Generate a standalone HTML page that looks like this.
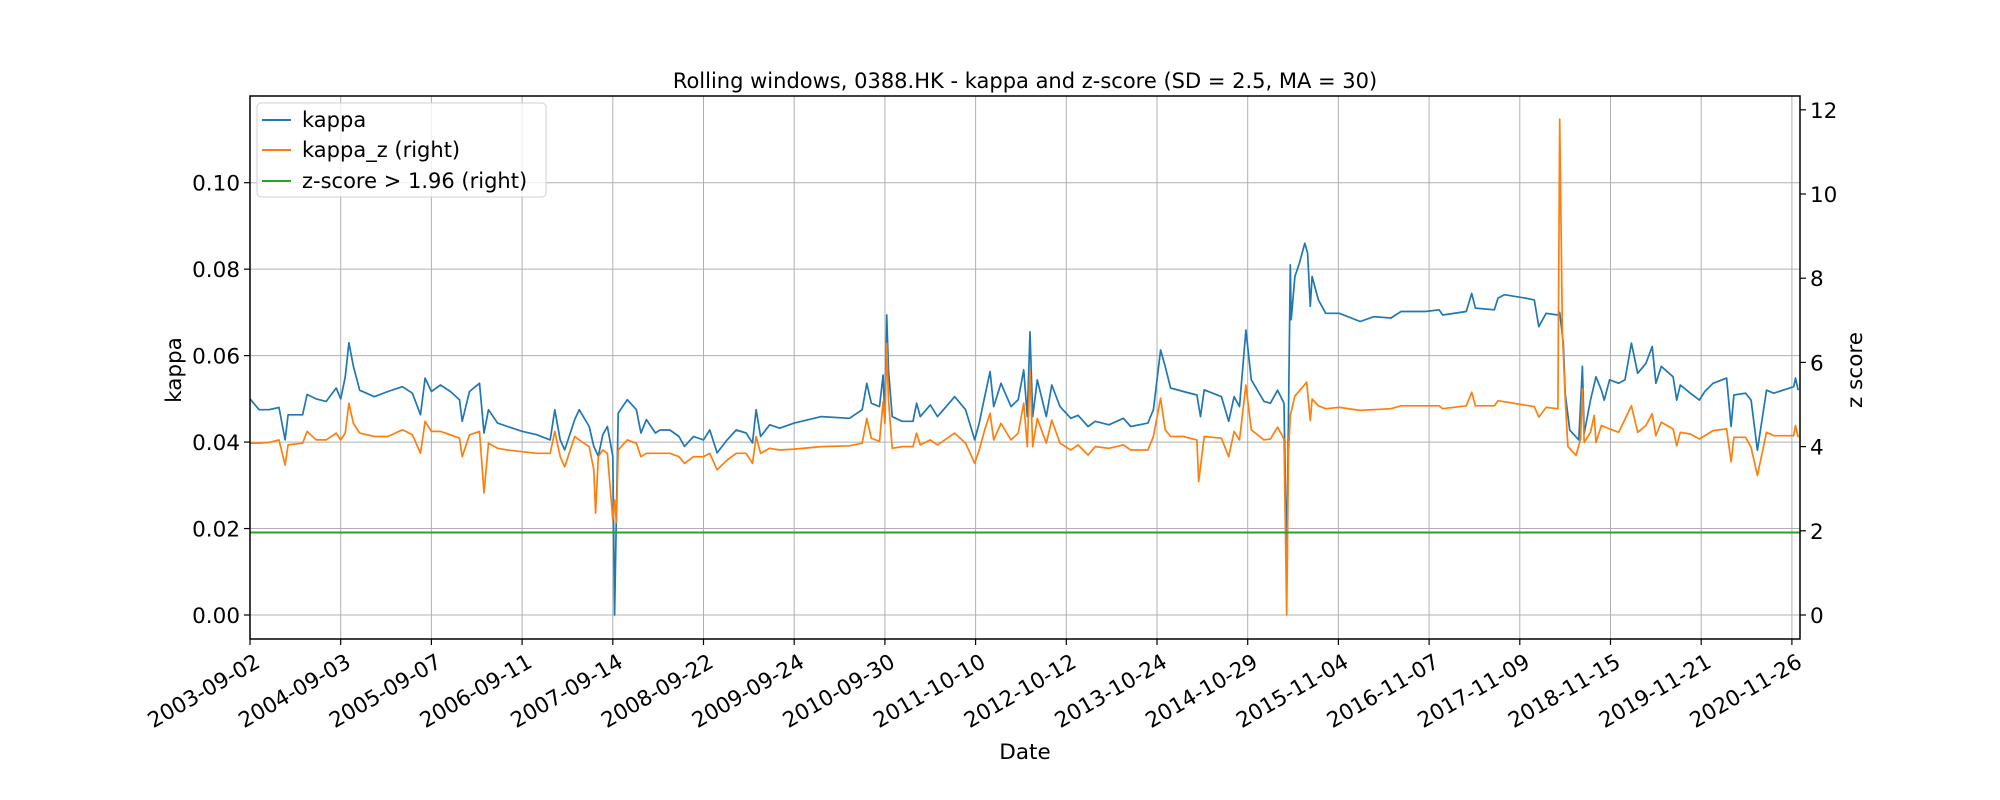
<!DOCTYPE html>
<html><head><meta charset="utf-8">
<style>
html,body{margin:0;padding:0;background:#fff;}
svg{display:block;font-family:"DejaVu Sans","Liberation Sans",sans-serif;}
</style></head>
<body>
<svg id="chart" width="2000" height="800" viewBox="0 0 2000 800" xmlns="http://www.w3.org/2000/svg">
<rect x="0" y="0" width="2000" height="800" fill="#fff"/>
<g id="grid"></g>
<g id="series"></g>
<rect x="250" y="96" width="1550" height="543" fill="none" stroke="#000" stroke-width="1.5"/>
<g id="axes"></g>
<text x="1025" y="88" text-anchor="middle" font-size="21">Rolling windows, 0388.HK - kappa and z-score (SD = 2.5, MA = 30)</text>
<text x="1025" y="759" text-anchor="middle" font-size="21.5">Date</text>
<text transform="translate(181,370) rotate(-90)" text-anchor="middle" font-size="21.5">kappa</text>
<text transform="translate(1862,370) rotate(-90)" text-anchor="middle" font-size="21.5">z score</text>
<g>
<rect x="257" y="103" width="289" height="94" rx="4" fill="#fff" fill-opacity="0.8" stroke="#d0d0d0"/>
<line x1="262" y1="120" x2="291" y2="120" stroke="#1f77b4" stroke-width="2"/>
<text x="302" y="127" font-size="21">kappa</text>
<line x1="262" y1="150" x2="291" y2="150" stroke="#ff7f0e" stroke-width="2"/>
<text x="302" y="157" font-size="21">kappa_z (right)</text>
<line x1="262" y1="181" x2="291" y2="181" stroke="#2ca02c" stroke-width="2"/>
<text x="302" y="188" font-size="21">z-score &gt; 1.96 (right)</text>
</g>
</svg>
<script>
const dateLabels=["2003-09-02","2004-09-03","2005-09-07","2006-09-11","2007-09-14","2008-09-22","2009-09-24","2010-09-30","2011-10-10","2012-10-12","2013-10-24","2014-10-29","2015-11-04","2016-11-07","2017-11-09","2018-11-15","2019-11-21","2020-11-26"];
const kappaTicks=[0,0.02,0.04,0.06,0.08,0.10];
const kappaTickLabels=["0.00","0.02","0.04","0.06","0.08","0.10"];
const zTicks=[0,2,4,6,8,10,12];
const zThreshold=1.96;
const kappaT=[0,0.10,0.21,0.32,0.387,0.42,0.53,0.58,0.63,0.73,0.84,0.95,1.00,1.05,1.09,1.14,1.21,1.37,1.52,1.68,1.79,1.88,1.93,2.00,2.10,2.21,2.31,2.34,2.42,2.53,2.58,2.63,2.73,2.84,3.00,3.16,3.31,3.36,3.42,3.47,3.58,3.63,3.74,3.79,3.84,3.89,3.94,4.00,4.02,4.06,4.16,4.26,4.31,4.37,4.47,4.52,4.63,4.73,4.79,4.89,5.00,5.07,5.15,5.26,5.36,5.47,5.54,5.58,5.63,5.73,5.84,6.00,6.30,6.61,6.75,6.80,6.85,6.94,6.98,7.00,7.02,7.04,7.08,7.19,7.31,7.35,7.39,7.50,7.58,7.77,7.89,7.99,8.04,8.10,8.16,8.20,8.28,8.39,8.47,8.53,8.57,8.60,8.63,8.68,8.78,8.84,8.93,9.05,9.13,9.24,9.32,9.47,9.63,9.71,9.90,9.96,10.04,10.09,10.15,10.29,10.44,10.48,10.52,10.71,10.79,10.85,10.91,10.98,11.04,11.18,11.25,11.33,11.40,11.43,11.47,11.48,11.52,11.57,11.63,11.66,11.69,11.71,11.78,11.86,12.01,12.24,12.39,12.58,12.69,12.96,13.11,13.15,13.41,13.47,13.51,13.72,13.76,13.83,14.06,14.16,14.21,14.29,14.42,14.44,14.48,14.50,14.55,14.65,14.69,14.71,14.78,14.84,14.90,14.93,14.99,15.09,15.16,15.23,15.30,15.39,15.46,15.50,15.56,15.69,15.73,15.77,15.88,15.98,16.04,16.13,16.28,16.33,16.36,16.49,16.55,16.62,16.72,16.80,17.02,17.04,17.07];
const kappaV=[0.050,0.0475,0.0475,0.048,0.0405,0.0463,0.0463,0.0463,0.051,0.050,0.0494,0.0525,0.050,0.055,0.063,0.0575,0.052,0.0505,0.0517,0.0528,0.0513,0.0463,0.0548,0.0517,0.0532,0.0517,0.0498,0.0448,0.0517,0.0536,0.0421,0.0475,0.0444,0.0436,0.0425,0.0417,0.0405,0.0475,0.0405,0.0382,0.0452,0.0475,0.0436,0.039,0.0367,0.0417,0.0436,0.0367,0,0.0467,0.0498,0.0475,0.0421,0.0452,0.0421,0.0428,0.0428,0.0413,0.039,0.0413,0.0405,0.0428,0.0375,0.0405,0.0428,0.0421,0.0398,0.0475,0.0413,0.044,0.0432,0.0444,0.0459,0.0455,0.0475,0.0536,0.049,0.0482,0.0555,0.0452,0.0694,0.0567,0.0459,0.0448,0.0448,0.049,0.0459,0.0486,0.0459,0.0505,0.0475,0.0405,0.0444,0.0505,0.0563,0.0482,0.0536,0.0482,0.0498,0.0567,0.0459,0.0655,0.0459,0.0544,0.0459,0.0532,0.0482,0.0455,0.0462,0.0436,0.0448,0.0440,0.0455,0.0436,0.0444,0.0475,0.0613,0.0575,0.0525,0.0517,0.0509,0.0459,0.0521,0.0505,0.0448,0.0505,0.0482,0.0659,0.0544,0.0494,0.049,0.052,0.049,0.012,0.081,0.0683,0.0783,0.0814,0.086,0.0837,0.0714,0.0783,0.0729,0.0698,0.0698,0.0679,0.069,0.0687,0.0702,0.0702,0.0706,0.0694,0.0702,0.0744,0.071,0.0706,0.0733,0.0741,0.0733,0.0729,0.0667,0.0698,0.0694,0.0700,0.0629,0.0513,0.0428,0.0405,0.0575,0.042,0.0497,0.0551,0.052,0.0497,0.0544,0.0536,0.0544,0.0629,0.0559,0.0582,0.0621,0.0536,0.0575,0.0551,0.0497,0.0532,0.0513,0.0497,0.0517,0.0536,0.0548,0.0436,0.0509,0.0513,0.0497,0.0381,0.052,0.0513,0.0528,0.0548,0.052];
const zT=[0,0.10,0.21,0.32,0.387,0.42,0.58,0.63,0.73,0.84,0.95,1.00,1.05,1.09,1.14,1.21,1.37,1.52,1.68,1.79,1.88,1.93,2.00,2.10,2.21,2.31,2.34,2.42,2.53,2.58,2.63,2.73,2.84,3.00,3.16,3.31,3.36,3.42,3.47,3.58,3.63,3.74,3.79,3.81,3.84,3.89,3.94,4.00,4.02,4.04,4.06,4.16,4.26,4.31,4.37,4.52,4.63,4.73,4.79,4.89,5.00,5.07,5.15,5.26,5.36,5.47,5.54,5.58,5.63,5.73,5.84,6.00,6.30,6.61,6.75,6.80,6.85,6.94,6.98,7.00,7.02,7.04,7.08,7.19,7.31,7.35,7.39,7.50,7.58,7.77,7.89,7.99,8.04,8.10,8.16,8.20,8.28,8.39,8.47,8.53,8.57,8.60,8.63,8.68,8.78,8.84,8.93,9.05,9.13,9.24,9.32,9.47,9.63,9.71,9.90,9.96,10.04,10.09,10.15,10.29,10.44,10.46,10.52,10.71,10.79,10.85,10.91,10.98,11.04,11.18,11.25,11.33,11.40,11.43,11.45,11.47,11.52,11.60,11.65,11.69,11.71,11.78,11.86,12.01,12.24,12.58,12.69,13.11,13.15,13.41,13.47,13.51,13.72,13.76,14.16,14.21,14.29,14.42,14.44,14.47,14.50,14.53,14.62,14.67,14.69,14.71,14.78,14.82,14.84,14.90,14.99,15.09,15.23,15.30,15.39,15.46,15.50,15.56,15.69,15.73,15.77,15.88,15.98,16.13,16.28,16.33,16.36,16.49,16.55,16.62,16.72,16.80,17.02,17.04,17.07];
const zV=[4.08,4.08,4.1,4.16,3.56,4.04,4.08,4.36,4.16,4.16,4.32,4.16,4.32,5.03,4.55,4.32,4.24,4.24,4.4,4.28,3.84,4.6,4.36,4.36,4.28,4.2,3.76,4.28,4.36,2.9,4.08,3.96,3.92,3.88,3.84,3.84,4.36,3.76,3.52,4.24,4.16,4.0,3.45,2.42,3.76,3.92,3.84,2.26,2.73,2.2,3.92,4.16,4.08,3.76,3.84,3.84,3.84,3.76,3.6,3.76,3.76,3.84,3.45,3.68,3.84,3.84,3.6,4.24,3.84,3.96,3.92,3.94,4.0,4.02,4.08,4.67,4.2,4.12,5.07,4.55,6.45,5.1,3.96,4.0,4.0,4.32,4.04,4.16,4.04,4.32,4.08,3.6,3.92,4.4,4.79,4.16,4.55,4.16,4.32,5.03,4.0,5.82,4.0,4.67,4.08,4.63,4.08,3.92,4.04,3.8,4.0,3.96,4.04,3.92,3.92,4.24,5.15,4.4,4.24,4.24,4.16,3.17,4.24,4.2,3.76,4.36,4.16,5.46,4.4,4.16,4.18,4.46,4.18,0,3.87,4.74,5.2,5.4,5.53,4.62,5.13,4.97,4.9,4.93,4.86,4.9,4.97,4.97,4.9,4.97,5.29,4.97,4.97,5.09,4.95,4.7,4.93,4.9,11.78,6.72,5.13,4.0,3.79,4.18,5.37,4.1,4.34,4.74,4.1,4.5,4.42,4.34,4.97,4.34,4.5,4.78,4.26,4.58,4.42,4.02,4.34,4.3,4.18,4.38,4.42,3.64,4.22,4.22,3.98,3.31,4.34,4.26,4.26,4.5,4.22];

const NS='http://www.w3.org/2000/svg';
const L=250,R=1800,T=96,B=639;
function xScale(t){return L+t*90.7;}
function yK(k){return 615-k*4323;}
function yZ(z){return 615-z*42.1;}
function mk(tag,attrs,parent){const e=document.createElementNS(NS,tag);for(const k in attrs)e.setAttribute(k,attrs[k]);parent.appendChild(e);return e;}
const grid=document.getElementById('grid'),axes=document.getElementById('axes'),series=document.getElementById('series');

dateLabels.forEach((d,i)=>{
  const x=xScale(i);
  const g=mk('line',{x1:x,y1:T,x2:x,y2:B,stroke:'#b0b0b0','stroke-width':1},grid);
  
  
  const tk=mk('line',{x1:x,y1:B,x2:x,y2:B+6,stroke:'#000','stroke-width':1.2},axes);
  
  
  const tx=mk('text',{x:x+4,y:B+14,'text-anchor':'end','font-size':21.5,transform:`rotate(-30 ${x+4} ${B+14})`,dy:'0.7em'},axes);
  tx.textContent=d;
  
  
});
kappaTicks.forEach((v,i)=>{
  const y=yK(v);
  const g=mk('line',{x1:L,y1:y,x2:R,y2:y,stroke:'#b0b0b0','stroke-width':1},grid);
  
  
  const tk=mk('line',{x1:L-6,y1:y,x2:L,y2:y,stroke:'#000','stroke-width':1.2},axes);
  
  
  const tx=mk('text',{x:L-10,y:y+8,'text-anchor':'end','font-size':21.5},axes);
  tx.textContent=kappaTickLabels[i];
  
  
});
zTicks.forEach(v=>{
  const y=yZ(v);
  const tk=mk('line',{x1:R,y1:y,x2:R+6,y2:y,stroke:'#000','stroke-width':1.2},axes);
  
  
  const tx=mk('text',{x:R+10,y:y+8,'text-anchor':'start','font-size':21.5},axes);
  tx.textContent=String(v);
  
  
});
function pathD(ts,vs,yf){return ts.map((t,i)=>(i?'L':'M')+xScale(t).toFixed(1)+','+yf(vs[i]).toFixed(1)).join('');}
const kp=mk('path',{d:pathD(kappaT,kappaV,yK),fill:'none',stroke:'#1f77b4','stroke-width':1.7,'stroke-linejoin':'round'},series);


const zp=mk('path',{d:pathD(zT,zV,yZ),fill:'none',stroke:'#ff7f0e','stroke-width':1.7,'stroke-linejoin':'round'},series);


const th=mk('line',{x1:L,y1:yZ(zThreshold),x2:R,y2:yZ(zThreshold),stroke:'#2ca02c','stroke-width':2},series);


</script>
</body></html>
